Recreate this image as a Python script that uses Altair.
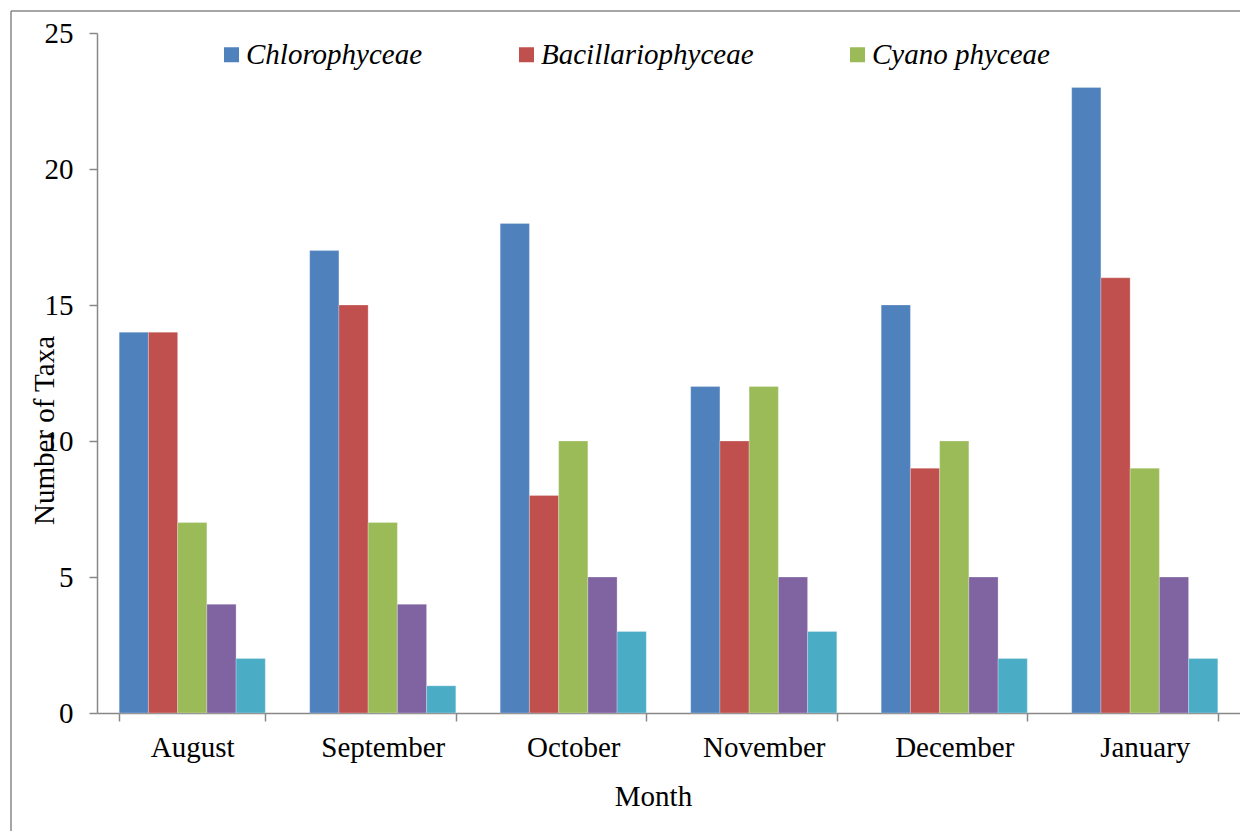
import altair as alt
import pandas as pd

months = ["August", "September", "October", "November", "December", "January"]
series = ["Chlorophyceae", "Bacillariophyceae", "Cyano phyceae", "Euglenophyceae", "Dinophyceae"]
legend_series = ["Chlorophyceae", "Bacillariophyceae", "Cyano phyceae"]
colors = ["#4F81BD", "#C0504D", "#9BBB59", "#8064A2", "#4BACC6"]

chloro = [14, 17, 18, 12, 15, 23]
bacill = [14, 15, 8, 10, 9, 16]
cyano = [7, 7, 10, 12, 10, 9]
eugleno = [4, 4, 5, 5, 5, 5]
dino = [2, 1, 3, 3, 2, 2]

y_ticks = [0, 5, 10, 15, 20, 25]

values = [chloro, bacill, cyano, eugleno, dino]
rows = []
for s, vals in zip(series, values):
    for m, v in zip(months, vals):
        rows.append({"Month": m, "Series": s, "Taxa": v})
df = pd.DataFrame(rows)

FONT = "Liberation Serif"
GRAY = "#888888"

bars = alt.Chart(df).mark_bar(stroke="white", strokeWidth=0.5, strokeOpacity=0.5).encode(
    x=alt.X(
        "Month:N",
        sort=months,
        scale=alt.Scale(paddingInner=0.233, paddingOuter=0.1165),
        axis=alt.Axis(
            title="Month",
            labelAngle=0,
            tickBand="extent",
            tickSize=8,
            labelPadding=35,
            labelBaseline="alphabetic",
            titleY=92,
            titleX=556,
            titleBaseline="alphabetic",
        ),
    ),
    xOffset=alt.XOffset("Series:N", sort=series, scale=alt.Scale(paddingInner=0, paddingOuter=0)),
    y=alt.Y(
        "Taxa:Q",
        scale=alt.Scale(domain=[0, 25], nice=False),
        axis=alt.Axis(
            title="Number of Taxa",
            values=y_ticks,
            tickSize=8,
            labelPadding=16,
            grid=False,
            titleX=-44,
            titleY=397,
            titleAngle=-90,
            titleAlign="center",
            titleBaseline="alphabetic",
        ),
    ),
    color=alt.Color(
        "Series:N",
        sort=series,
        scale=alt.Scale(domain=series, range=colors),
        legend=alt.Legend(
            title=None,
            values=legend_series,
            orient="none",
            direction="horizontal",
            legendX=120,
            legendY=7,
            symbolType="square",
            symbolSize=225,
            symbolStrokeWidth=0,
            labelOffset=0,
            columnPadding=89,
            labelFont=FONT,
            labelFontSize=29,
            labelFontStyle="italic",
            labelColor="black",
            labelLimit=400,
            padding=0,
        ),
    ),
)

frame_df = pd.DataFrame({"k": [0]})
left_frame = alt.Chart(frame_df).mark_rule(color=GRAY, strokeWidth=1.5).encode(
    x=alt.value(-86), y=alt.value(-22), y2=alt.value(900)
)
top_frame = alt.Chart(frame_df).mark_rule(color=GRAY, strokeWidth=1.5).encode(
    x=alt.value(-86), x2=alt.value(1300), y=alt.value(-22)
)

chart = alt.layer(bars, left_frame, top_frame).properties(
    width=1143,
    height=680,
    autosize=alt.AutoSizeParams(type="none"),
    padding={"left": 89, "top": 25, "right": 0, "bottom": 118},
).configure(background="white").configure_view(stroke=None).configure_axis(
    labelFont=FONT,
    titleFont=FONT,
    labelFontSize=29,
    titleFontSize=29,
    labelColor="black",
    titleColor="black",
    titleFontWeight="normal",
    domainColor=GRAY,
    tickColor=GRAY,
    domainWidth=1.5,
    tickWidth=1.5,
)

chart.save("out.html", embed_options={"renderer": "svg", "actions": False})
